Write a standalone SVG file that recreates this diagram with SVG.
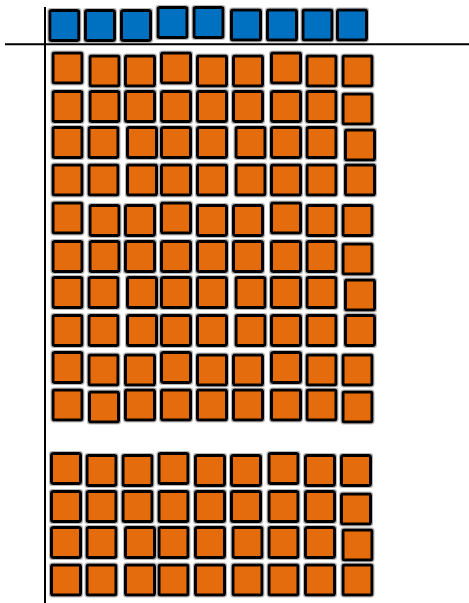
<svg xmlns="http://www.w3.org/2000/svg" width="469" height="603" viewBox="0 0 469 603">
<style>
.b{fill:#0070C0;stroke:#000;stroke-width:3}
.o{fill:#E46C0A;stroke:#000;stroke-width:3}
.ax{stroke:#000;stroke-width:2;fill:none}
</style>
<defs>
<filter id="halo" x="-2%" y="-2%" width="104%" height="104%">
<feMorphology in="SourceAlpha" operator="dilate" radius="1.2" result="d"/>
<feFlood flood-color="#999" flood-opacity="0.7"/>
<feComposite in2="d" operator="in"/>
<feMerge><feMergeNode/><feMergeNode in="SourceGraphic"/></feMerge>
</filter>
</defs>
<rect width="469" height="603" fill="#fff"/>
<g id="connectors">
<line class="ax" x1="45" y1="7" x2="45" y2="603"/>
<line class="ax" x1="5" y1="44.3" x2="469" y2="44.3"/>
</g>
<g id="nodes" filter="url(#halo)">
<g id="blue-1"><rect class="b" x="49.8" y="10.5" width="29" height="30" rx="1.5"/></g>
<g id="blue-2"><rect class="b" x="85.5" y="10.5" width="29" height="30" rx="1.5"/></g>
<g id="blue-3"><rect class="b" x="121.5" y="10.5" width="29" height="30" rx="1.5"/></g>
<g id="blue-4"><rect class="b" x="158" y="7.5" width="29" height="30" rx="1.5"/></g>
<g id="blue-5"><rect class="b" x="194" y="7.5" width="29" height="30" rx="1.5"/></g>
<g id="blue-6"><rect class="b" x="231.5" y="10" width="29" height="30" rx="1.5"/></g>
<g id="blue-7"><rect class="b" x="267.5" y="10" width="29" height="30" rx="1.5"/></g>
<g id="blue-8"><rect class="b" x="303" y="10" width="29" height="30" rx="1.5"/></g>
<g id="blue-9"><rect class="b" x="337.5" y="10" width="29" height="30" rx="1.5"/></g>

<g id="r1c1"><rect class="o" x="53" y="53" width="29" height="30" rx="1.5"/></g>
<g id="r1c2"><rect class="o" x="90" y="56" width="29" height="30" rx="1.5"/></g>
<g id="r1c3"><rect class="o" x="125.5" y="56" width="29" height="30" rx="1.5"/></g>
<g id="r1c4"><rect class="o" x="161.5" y="53" width="29" height="30" rx="1.5"/></g>
<g id="r1c5"><rect class="o" x="197.5" y="56" width="29" height="30" rx="1.5"/></g>
<g id="r1c6"><rect class="o" x="233.5" y="56" width="29" height="30" rx="1.5"/></g>
<g id="r1c7"><rect class="o" x="271.5" y="53" width="29" height="30" rx="1.5"/></g>
<g id="r1c8"><rect class="o" x="307" y="56" width="29" height="30" rx="1.5"/></g>
<g id="r1c9"><rect class="o" x="343" y="56" width="29" height="30" rx="1.5"/></g>

<g id="r2c1"><rect class="o" x="53" y="91.5" width="29" height="30" rx="1.5"/></g>
<g id="r2c2"><rect class="o" x="90" y="91.5" width="29" height="30" rx="1.5"/></g>
<g id="r2c3"><rect class="o" x="125.5" y="91.5" width="29" height="30" rx="1.5"/></g>
<g id="r2c4"><rect class="o" x="161.5" y="91.5" width="29" height="30" rx="1.5"/></g>
<g id="r2c5"><rect class="o" x="197.5" y="91.5" width="29" height="30" rx="1.5"/></g>
<g id="r2c6"><rect class="o" x="233.5" y="91.5" width="29" height="30" rx="1.5"/></g>
<g id="r2c7"><rect class="o" x="271.5" y="91.5" width="29" height="30" rx="1.5"/></g>
<g id="r2c8"><rect class="o" x="307" y="91.5" width="29" height="30" rx="1.5"/></g>
<g id="r2c9"><rect class="o" x="343" y="94" width="29" height="30" rx="1.5"/></g>

<g id="r3c1"><rect class="o" x="53" y="127.5" width="29" height="30" rx="1.5"/></g>
<g id="r3c2"><rect class="o" x="89" y="127.5" width="29" height="30" rx="1.5"/></g>
<g id="r3c3"><rect class="o" x="127.5" y="127.5" width="29" height="30" rx="1.5"/></g>
<g id="r3c4"><rect class="o" x="161.5" y="127.5" width="29" height="30" rx="1.5"/></g>
<g id="r3c5"><rect class="o" x="197.5" y="127.5" width="29" height="30" rx="1.5"/></g>
<g id="r3c6"><rect class="o" x="236" y="127.5" width="29" height="30" rx="1.5"/></g>
<g id="r3c7"><rect class="o" x="271.5" y="127.5" width="29" height="30" rx="1.5"/></g>
<g id="r3c8"><rect class="o" x="307" y="127.5" width="29" height="30" rx="1.5"/></g>
<g id="r3c9"><rect class="o" x="345.5" y="130" width="29" height="30" rx="1.5"/></g>

<g id="r4c1"><rect class="o" x="53" y="165" width="29" height="30" rx="1.5"/></g>
<g id="r4c2"><rect class="o" x="89" y="165" width="29" height="30" rx="1.5"/></g>
<g id="r4c3"><rect class="o" x="127.5" y="165" width="29" height="30" rx="1.5"/></g>
<g id="r4c4"><rect class="o" x="161.5" y="165" width="29" height="30" rx="1.5"/></g>
<g id="r4c5"><rect class="o" x="197.5" y="165" width="29" height="30" rx="1.5"/></g>
<g id="r4c6"><rect class="o" x="236" y="165" width="29" height="30" rx="1.5"/></g>
<g id="r4c7"><rect class="o" x="271.5" y="165" width="29" height="30" rx="1.5"/></g>
<g id="r4c8"><rect class="o" x="307" y="165" width="29" height="30" rx="1.5"/></g>
<g id="r4c9"><rect class="o" x="345.5" y="165" width="29" height="30" rx="1.5"/></g>

<g id="r5c1"><rect class="o" x="53" y="203" width="29" height="30" rx="1.5"/></g>
<g id="r5c2"><rect class="o" x="90" y="205.5" width="29" height="30" rx="1.5"/></g>
<g id="r5c3"><rect class="o" x="125.5" y="205.5" width="29" height="30" rx="1.5"/></g>
<g id="r5c4"><rect class="o" x="161.5" y="203" width="29" height="30" rx="1.5"/></g>
<g id="r5c5"><rect class="o" x="197.5" y="205.5" width="29" height="30" rx="1.5"/></g>
<g id="r5c6"><rect class="o" x="233.5" y="205.5" width="29" height="30" rx="1.5"/></g>
<g id="r5c7"><rect class="o" x="271.5" y="203" width="29" height="30" rx="1.5"/></g>
<g id="r5c8"><rect class="o" x="307" y="205.5" width="29" height="30" rx="1.5"/></g>
<g id="r5c9"><rect class="o" x="343" y="205.5" width="29" height="30" rx="1.5"/></g>

<g id="r6c1"><rect class="o" x="53" y="241.5" width="29" height="30" rx="1.5"/></g>
<g id="r6c2"><rect class="o" x="90" y="241.5" width="29" height="30" rx="1.5"/></g>
<g id="r6c3"><rect class="o" x="125.5" y="241.5" width="29" height="30" rx="1.5"/></g>
<g id="r6c4"><rect class="o" x="161.5" y="241.5" width="29" height="30" rx="1.5"/></g>
<g id="r6c5"><rect class="o" x="197.5" y="241.5" width="29" height="30" rx="1.5"/></g>
<g id="r6c6"><rect class="o" x="233.5" y="241.5" width="29" height="30" rx="1.5"/></g>
<g id="r6c7"><rect class="o" x="271.5" y="241.5" width="29" height="30" rx="1.5"/></g>
<g id="r6c8"><rect class="o" x="307" y="241.5" width="29" height="30" rx="1.5"/></g>
<g id="r6c9"><rect class="o" x="343" y="244" width="29" height="30" rx="1.5"/></g>

<g id="r7c1"><rect class="o" x="53" y="277.5" width="29" height="30" rx="1.5"/></g>
<g id="r7c2"><rect class="o" x="89" y="277.5" width="29" height="30" rx="1.5"/></g>
<g id="r7c3"><rect class="o" x="127.5" y="277.5" width="29" height="30" rx="1.5"/></g>
<g id="r7c4"><rect class="o" x="161.5" y="277.5" width="29" height="30" rx="1.5"/></g>
<g id="r7c5"><rect class="o" x="197.5" y="277.5" width="29" height="30" rx="1.5"/></g>
<g id="r7c6"><rect class="o" x="236" y="277.5" width="29" height="30" rx="1.5"/></g>
<g id="r7c7"><rect class="o" x="271.5" y="277.5" width="29" height="30" rx="1.5"/></g>
<g id="r7c8"><rect class="o" x="307" y="277.5" width="29" height="30" rx="1.5"/></g>
<g id="r7c9"><rect class="o" x="345.5" y="280" width="29" height="30" rx="1.5"/></g>

<g id="r8c1"><rect class="o" x="53" y="315.5" width="29" height="30" rx="1.5"/></g>
<g id="r8c2"><rect class="o" x="89" y="315.5" width="29" height="30" rx="1.5"/></g>
<g id="r8c3"><rect class="o" x="127.5" y="315.5" width="29" height="30" rx="1.5"/></g>
<g id="r8c4"><rect class="o" x="161.5" y="315.5" width="29" height="30" rx="1.5"/></g>
<g id="r8c5"><rect class="o" x="197.5" y="315.5" width="29" height="30" rx="1.5"/></g>
<g id="r8c6"><rect class="o" x="236" y="315.5" width="29" height="30" rx="1.5"/></g>
<g id="r8c7"><rect class="o" x="271.5" y="315.5" width="29" height="30" rx="1.5"/></g>
<g id="r8c8"><rect class="o" x="307" y="315.5" width="29" height="30" rx="1.5"/></g>
<g id="r8c9"><rect class="o" x="345.5" y="315.5" width="29" height="30" rx="1.5"/></g>

<g id="r9c1"><rect class="o" x="53" y="352.5" width="29" height="30" rx="1.5"/></g>
<g id="r9c2"><rect class="o" x="89" y="355" width="29" height="30" rx="1.5"/></g>
<g id="r9c3"><rect class="o" x="125.5" y="355" width="29" height="30" rx="1.5"/></g>
<g id="r9c4"><rect class="o" x="161.5" y="352.5" width="29" height="30" rx="1.5"/></g>
<g id="r9c5"><rect class="o" x="197.5" y="355" width="29" height="30" rx="1.5"/></g>
<g id="r9c6"><rect class="o" x="233.5" y="355" width="29" height="30" rx="1.5"/></g>
<g id="r9c7"><rect class="o" x="271.5" y="352.5" width="29" height="30" rx="1.5"/></g>
<g id="r9c8"><rect class="o" x="307" y="355" width="29" height="30" rx="1.5"/></g>
<g id="r9c9"><rect class="o" x="343" y="355" width="29" height="30" rx="1.5"/></g>

<g id="r10c1"><rect class="o" x="53" y="390" width="29" height="30" rx="1.5"/></g>
<g id="r10c2"><rect class="o" x="89.5" y="392" width="29" height="30" rx="1.5"/></g>
<g id="r10c3"><rect class="o" x="125.5" y="390" width="29" height="30" rx="1.5"/></g>
<g id="r10c4"><rect class="o" x="161.5" y="390" width="29" height="30" rx="1.5"/></g>
<g id="r10c5"><rect class="o" x="197.5" y="390" width="29" height="30" rx="1.5"/></g>
<g id="r10c6"><rect class="o" x="233.5" y="390" width="29" height="30" rx="1.5"/></g>
<g id="r10c7"><rect class="o" x="271.5" y="390" width="29" height="30" rx="1.5"/></g>
<g id="r10c8"><rect class="o" x="307" y="390" width="29" height="30" rx="1.5"/></g>
<g id="r10c9"><rect class="o" x="343" y="392" width="29" height="30" rx="1.5"/></g>

<g id="r11c1"><rect class="o" x="51.5" y="453.5" width="29" height="30" rx="1.5"/></g>
<g id="r11c2"><rect class="o" x="87" y="455.5" width="29" height="30" rx="1.5"/></g>
<g id="r11c3"><rect class="o" x="123" y="455.5" width="29" height="30" rx="1.5"/></g>
<g id="r11c4"><rect class="o" x="159" y="453.5" width="29" height="30" rx="1.5"/></g>
<g id="r11c5"><rect class="o" x="195.5" y="455.5" width="29" height="30" rx="1.5"/></g>
<g id="r11c6"><rect class="o" x="231.5" y="455.5" width="29" height="30" rx="1.5"/></g>
<g id="r11c7"><rect class="o" x="269" y="453.5" width="29" height="30" rx="1.5"/></g>
<g id="r11c8"><rect class="o" x="305.5" y="455.5" width="29" height="30" rx="1.5"/></g>
<g id="r11c9"><rect class="o" x="341.5" y="455.5" width="29" height="30" rx="1.5"/></g>

<g id="r12c1"><rect class="o" x="51.5" y="491.5" width="29" height="30" rx="1.5"/></g>
<g id="r12c2"><rect class="o" x="87" y="491.5" width="29" height="30" rx="1.5"/></g>
<g id="r12c3"><rect class="o" x="123" y="491.5" width="29" height="30" rx="1.5"/></g>
<g id="r12c4"><rect class="o" x="159" y="491.5" width="29" height="30" rx="1.5"/></g>
<g id="r12c5"><rect class="o" x="195.5" y="491.5" width="29" height="30" rx="1.5"/></g>
<g id="r12c6"><rect class="o" x="231.5" y="491.5" width="29" height="30" rx="1.5"/></g>
<g id="r12c7"><rect class="o" x="269" y="491.5" width="29" height="30" rx="1.5"/></g>
<g id="r12c8"><rect class="o" x="305.5" y="491.5" width="29" height="30" rx="1.5"/></g>
<g id="r12c9"><rect class="o" x="341.5" y="494" width="29" height="30" rx="1.5"/></g>

<g id="r13c1"><rect class="o" x="51.5" y="527.5" width="29" height="30" rx="1.5"/></g>
<g id="r13c2"><rect class="o" x="87" y="527.5" width="29" height="30" rx="1.5"/></g>
<g id="r13c3"><rect class="o" x="125.5" y="527.5" width="29" height="30" rx="1.5"/></g>
<g id="r13c4"><rect class="o" x="159" y="527.5" width="29" height="30" rx="1.5"/></g>
<g id="r13c5"><rect class="o" x="195.5" y="527.5" width="29" height="30" rx="1.5"/></g>
<g id="r13c6"><rect class="o" x="233" y="527.5" width="29" height="30" rx="1.5"/></g>
<g id="r13c7"><rect class="o" x="269" y="527.5" width="29" height="30" rx="1.5"/></g>
<g id="r13c8"><rect class="o" x="305.5" y="527.5" width="29" height="30" rx="1.5"/></g>
<g id="r13c9"><rect class="o" x="343" y="530" width="29" height="30" rx="1.5"/></g>

<g id="r14c1"><rect class="o" x="51.5" y="565" width="29" height="30" rx="1.5"/></g>
<g id="r14c2"><rect class="o" x="87" y="565" width="29" height="30" rx="1.5"/></g>
<g id="r14c3"><rect class="o" x="125.5" y="565" width="29" height="30" rx="1.5"/></g>
<g id="r14c4"><rect class="o" x="159" y="565" width="29" height="30" rx="1.5"/></g>
<g id="r14c5"><rect class="o" x="195.5" y="565" width="29" height="30" rx="1.5"/></g>
<g id="r14c6"><rect class="o" x="233" y="565" width="29" height="30" rx="1.5"/></g>
<g id="r14c7"><rect class="o" x="269" y="565" width="29" height="30" rx="1.5"/></g>
<g id="r14c8"><rect class="o" x="305.5" y="565" width="29" height="30" rx="1.5"/></g>
<g id="r14c9"><rect class="o" x="343" y="565" width="29" height="30" rx="1.5"/></g>
</g>
</svg>
